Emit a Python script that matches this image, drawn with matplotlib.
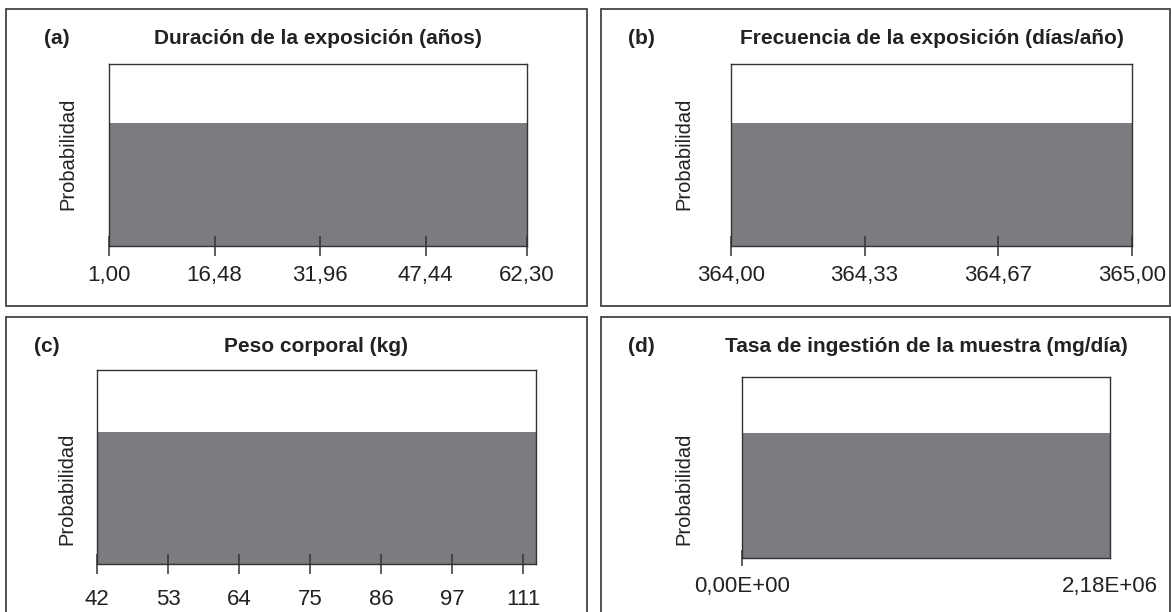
import matplotlib
matplotlib.use("Agg")
import matplotlib.pyplot as plt
from matplotlib.patches import Rectangle

plt.rcParams['font.family'] = ['Liberation Sans', 'DejaVu Sans']

# uniform distributions: lower / upper limits of each parameter
letters = ['(a)', '(b)', '(c)', '(d)']
titles = ['Duración de la exposición (años)',
          'Frecuencia de la exposición (días/año)',
          'Peso corporal (kg)',
          'Tasa de ingestión de la muestra (mg/día)']
lower = [1.00, 364.00, 42.0, 0.0]
upper = [62.30, 365.00, 110.0, 2.18e6]
ticks = [[1.00, 16.48, 31.96, 47.44, 62.30],
         [364.00, 364.333, 364.667, 365.00],
         [42, 53, 64, 75, 86, 97, 108],
         [0.0, 2.18e6]]
tick_labels = [['1,00', '16,48', '31,96', '47,44', '62,30'],
               ['364,00', '364,33', '364,67', '365,00'],
               ['42', '53', '64', '75', '86', '97', '111'],
               ['0,00E+00', '2,18E+06']]

W, H = 1171, 612
BAR = '#7b7c80'
INK = '#222222'
EDGE = '#333333'

# pixel layouts: outer frame, axes box (left, top, right, bottom)
frames = [(6, 9, 587, 306), (601, 9, 1170, 306),
          (6, 317, 587, 640), (601, 317, 1170, 640)]
boxes = [(109, 64, 527, 246), (731, 64, 1132, 246),
         (97, 370, 536, 564), (742, 377, 1110, 558)]
letter_x = [57, 641, 47, 641]
title_y = [38, 38, 347, 347]
ylab_pos = [(-0.076, 0.505), (-0.093, 0.505), (-0.047, 0.39), (-0.131, 0.385)]
label_pad = [7, 7, 11, 7]
fill_frac = [0.675, 0.675, 0.68, 0.69]

fig = plt.figure(figsize=(W / 100, H / 100), dpi=100)

for i in range(4):
    l, t, r, b = frames[i]
    fig.patches.append(Rectangle((l / W, 1 - b / H), (r - l) / W, (b - t) / H,
                                 transform=fig.transFigure, fill=False,
                                 edgecolor='#444444', linewidth=1.3))

    l, t, r, b = boxes[i]
    ax = fig.add_axes([l / W, 1 - b / H, (r - l) / W, (b - t) / H])
    dens = 1.0 / (upper[i] - lower[i])
    ax.bar(lower[i], dens, width=upper[i] - lower[i], align='edge',
           color=BAR, linewidth=0)
    ax.set_xlim(lower[i], upper[i])
    ax.set_ylim(0, dens / fill_frac[i])

    ax.set_yticks([])
    ax.set_xticks(ticks[i])
    ax.set_xticklabels(tick_labels[i], fontsize=16, color=INK)
    ax.tick_params(axis='x', direction='inout', length=14, width=1.1,
                   color=EDGE, pad=label_pad[i])
    if i == 3:
        ax.xaxis.get_major_ticks()[1].tick1line.set_visible(False)
        ax.tick_params(axis='x', length=12)
    for s in ax.spines.values():
        s.set_color(EDGE)
        s.set_linewidth(1.0)

    ax.set_ylabel('Probabilidad', fontsize=14.5, color=INK)
    ax.yaxis.set_label_coords(*ylab_pos[i])

    cx = (l + r) / 2
    fig.text(cx / W, 1 - title_y[i] / H, titles[i], fontsize=15,
             fontweight='bold', color=INK, ha='center', va='center')
    fig.text(letter_x[i] / W, 1 - title_y[i] / H, letters[i], fontsize=15,
             fontweight='bold', color=INK, ha='center', va='center')

fig.savefig('out.png', dpi=100)
